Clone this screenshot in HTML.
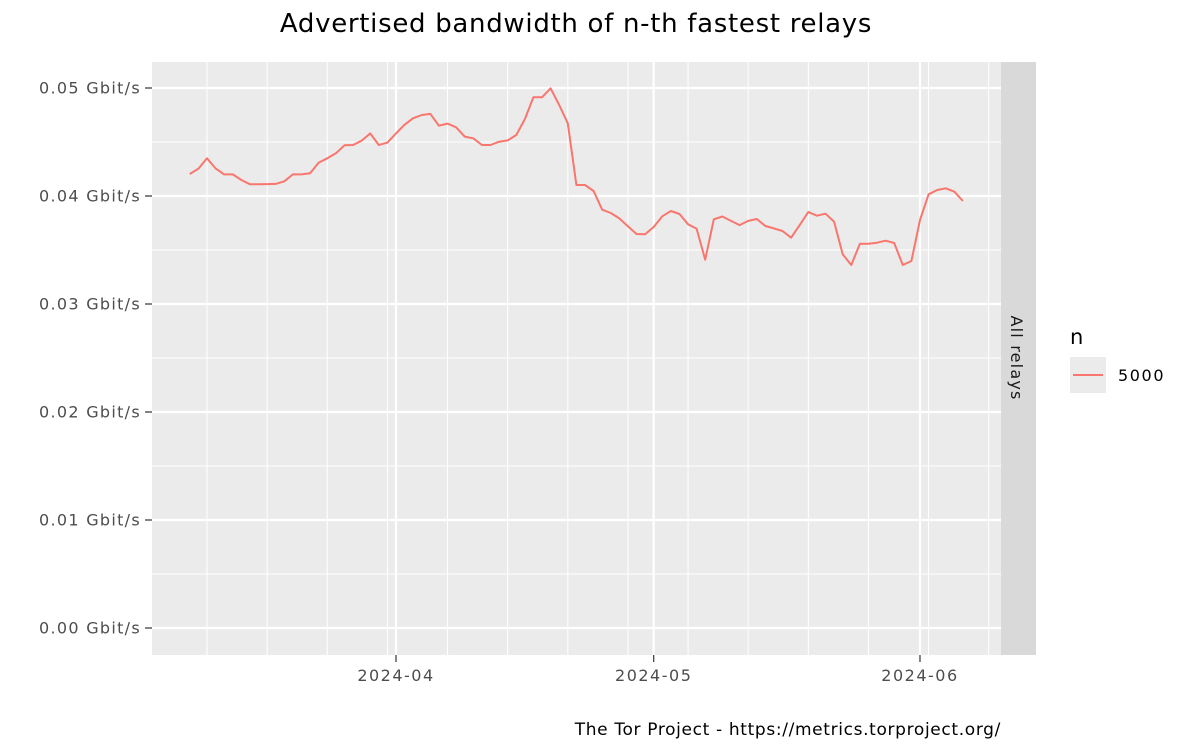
<!DOCTYPE html>
<html><head><meta charset="utf-8"><style>
body{margin:0;background:#fff;}
svg{display:block;font-family:"DejaVu Sans","Liberation Sans",sans-serif;}
</style></head><body>
<svg id="chart" width="1200" height="750" viewBox="0 0 1200 750">
<text x="576" y="32" font-size="26" letter-spacing="0.7" text-anchor="middle" fill="#000">Advertised bandwidth of n-th fastest relays</text>
<rect x="152" y="62" width="849" height="593" fill="#ebebeb"/>
<g id="grid"></g>
<g id="series"></g>
<g id="yaxis"></g>
<g id="xaxis"></g>
<rect x="1001" y="62" width="35" height="593" fill="#d9d9d9"/>
<text transform="translate(1011,358) rotate(90)" font-size="16" letter-spacing="1.2" text-anchor="middle" fill="#1a1a1a">All relays</text>
<text x="1070" y="344" font-size="21" fill="#000">n</text>
<rect x="1070" y="357" width="36" height="36" fill="#ebebeb"/>
<line x1="1073" y1="375" x2="1103" y2="375" stroke="#f8766d" stroke-width="2"/>
<text x="1118" y="381" font-size="16" letter-spacing="1.6" fill="#000">5000</text>
<text x="1001" y="735" font-size="17" letter-spacing="0.65" text-anchor="end" fill="#000">The Tor Project - https://metrics.torproject.org/</text>
</svg>
<script>
const startDate = "2024-03-08";
const values = [0.04204,0.04253,0.04349,0.04256,0.0420,0.0420,0.04148,0.04108,0.04109,0.0411,0.04112,0.04136,0.0420,0.0420,0.0421,0.04309,0.04349,0.04395,0.04469,0.04472,0.04512,0.0458,0.04472,0.04494,0.0458,0.0466,0.0472,0.0475,0.0476,0.04651,0.0467,0.04636,0.0455,0.04534,0.04472,0.04472,0.04503,0.04515,0.04565,0.04713,0.04914,0.04914,0.04997,0.04843,0.04673,0.04102,0.04102,0.04046,0.03873,0.03843,0.03793,0.0372,0.03648,0.03645,0.03713,0.03812,0.03861,0.03833,0.03738,0.03698,0.0341,0.03784,0.0381,0.03769,0.03731,0.03769,0.03787,0.03722,0.037,0.03676,0.03614,0.03731,0.03852,0.03818,0.03836,0.03762,0.0346,0.03361,0.03558,0.03558,0.03568,0.03586,0.03565,0.03361,0.03398,0.03778,0.04016,0.04056,0.04071,0.0404,0.03954];
const yTicks = [0,0.01,0.02,0.03,0.04,0.05];
const yTickLabels = ["0.00 Gbit/s","0.01 Gbit/s","0.02 Gbit/s","0.03 Gbit/s","0.04 Gbit/s","0.05 Gbit/s"];
const xMajor = ["2024-04-01","2024-05-01","2024-06-01"];
const xMajorLabels = ["2024-04","2024-05","2024-06"];

const NS="http://www.w3.org/2000/svg";
const DAY=86400000, ref=Date.UTC(2024,3,1);
function dayOf(s){const p=s.split('-').map(Number);return (Date.UTC(p[0],p[1]-1,p[2])-ref)/DAY;}
function xs(d){return 396+8.59*d;}
function ys(v){return 628-v*10800;}
function mk(tag,attrs,parent){const e=document.createElementNS(NS,tag);for(const k in attrs)e.setAttribute(k,attrs[k]);parent.appendChild(e);return e;}
const grid=document.getElementById('grid'),ser=document.getElementById('series'),ya=document.getElementById('yaxis'),xa=document.getElementById('xaxis');
for(let i=0;i<yTicks.length-1;i++){const v=(yTicks[i]+yTicks[i+1])/2;const l=mk('line',{x1:152,x2:1001,y1:ys(v),y2:ys(v),stroke:'#fff','stroke-width':1},grid);

}
for(let d=-28;d<=70;d+=7){const x=xs(d-1);if(x<152||x>1001)continue;const l=mk('line',{x1:x,x2:x,y1:62,y2:655,stroke:'#fff','stroke-width':1},grid);

}
yTicks.forEach((v,i)=>{const y=ys(v);
const g=mk('line',{x1:152,x2:1001,y1:y,y2:y,stroke:'#fff','stroke-width':2.2},grid);


const t=mk('line',{x1:145,x2:152,y1:y,y2:y,stroke:'#333','stroke-width':1.2},ya);


const tx=mk('text',{x:141,y:y+5.5,'font-size':16,'letter-spacing':1.3,'text-anchor':'end',fill:'#4d4d4d'},ya);tx.textContent=yTickLabels[i];

});
xMajor.forEach((s,i)=>{const x=xs(dayOf(s));
const g=mk('line',{x1:x,x2:x,y1:62,y2:655,stroke:'#fff','stroke-width':2.2},grid);


const t=mk('line',{x1:x,x2:x,y1:655,y2:662,stroke:'#333','stroke-width':1.2},xa);


const tx=mk('text',{x:x,y:681,'font-size':16,'letter-spacing':1.5,'text-anchor':'middle',fill:'#4d4d4d'},xa);tx.textContent=xMajorLabels[i];

});
const d0=dayOf(startDate);
const pts=values.map((v,i)=>xs(d0+i).toFixed(1)+','+ys(v).toFixed(1)).join(' ');
const pl=mk('polyline',{points:pts,fill:'none',stroke:'#f8766d','stroke-width':2,'stroke-linejoin':'round'},ser);


</script>
</body></html>
